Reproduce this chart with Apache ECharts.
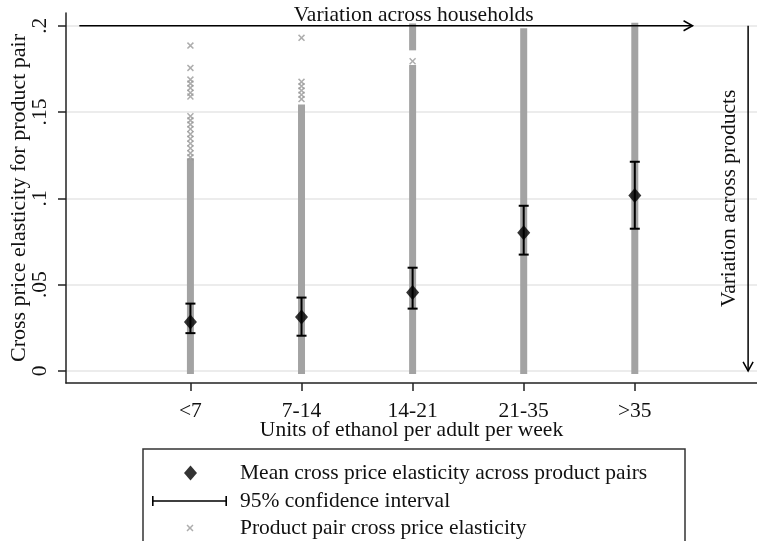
<!doctype html>
<html>
<head>
<meta charset="utf-8">
<title>Cross price elasticity</title>
<script src="https://cdn.jsdelivr.net/npm/echarts@6/dist/echarts.min.js"></script>
<style>
	html, body { margin: 0; padding: 0; background: #fff; }
	#main { width: 757px; height: 541px; }
</style>
</head>
<body>
<div id="main"></div>
<script type="text/javascript">
	// x axis categories (units of ethanol per adult per week)
	var categories = ['<7', '7-14', '14-21', '21-35', '>35'];
	var catPos = [1, 2, 3, 4, 5];
	// mean cross price elasticity and its 95% confidence interval
	var meanValues = [0.0284, 0.0313, 0.0454, 0.0800, 0.1016];
	var ciLow = [0.0219, 0.0204, 0.0361, 0.0674, 0.0824];
	var ciHigh = [0.0390, 0.0425, 0.0598, 0.0957, 0.1212];
	// runs of product pair markers so dense they merge into a column
	var runCat = [1, 2, 3, 3, 4, 5];
	var runLow = [0, 0, 0, 0.1875, 0, 0];
	var runHigh = [0.1215, 0.1526, 0.1756, 0.1996, 0.1968, 0.2];
	// isolated product pair markers
	var outlierCat = [1, 1, 1, 1, 1, 1, 1, 1, 1, 1, 1, 1, 1, 1, 1, 1, 1,
		2, 2, 2, 2, 2, 2, 3];
	var outlierVal = [0.1885, 0.1756, 0.1688, 0.1665, 0.1640, 0.1612, 0.1590,
		0.1476, 0.1452, 0.1428, 0.1402, 0.1372, 0.1345, 0.1318, 0.1290, 0.1262, 0.1238,
		0.1930, 0.1675, 0.1650, 0.1625, 0.1600, 0.1575, 0.1794];
	// y axis ticks
	var yTicks = [0, 0.05, 0.1, 0.15, 0.2];
	// annotation arrows: x0, y0, x1, y1, text x, text y
	var arrowData = [
		[0, 0.2, 5.52, 0.2, 3.01, 0.2],
		[6.02, 0.2, 6.02, 0, 5.85, 0.1]
	];
	var arrowText = ['Variation across households', 'Variation across products'];

	var FONT = 'Liberation Serif';
	var FONT_SIZE = 21.5;
	var mainChart = echarts.init(document.getElementById('main'));

	var byIndex = function(xs, ys) {
		var out = [];
		for (var i = 0; i < xs.length; i++) {
			out.push([xs[i], ys[i]]);
		}
		return out;
	};

	var runData = [];
	for (var i = 0; i < runCat.length; i++) {
		runData.push([runCat[i], runLow[i], runHigh[i]]);
	}
	var ciData = [];
	for (var j = 0; j < catPos.length; j++) {
		ciData.push([catPos[j], ciLow[j], ciHigh[j]]);
	}

	var crossPath = 'path://M0,1.5 L1.5,0 L5,3.5 L8.5,0 L10,1.5 L6.5,5 L10,8.5 L8.5,10 L5,6.5 L1.5,10 L0,8.5 L3.5,5 Z';
	var ciIcon = 'path://M0,0 L1.6,0 L1.6,4.2 L73.4,4.2 L73.4,0 L75,0 L75,10 L73.4,10 L73.4,5.8 L1.6,5.8 L1.6,10 L0,10 Z';

	var legendText = {
		fontFamily: FONT,
		fontSize: FONT_SIZE,
		color: '#111',
		lineHeight: 22
	};

	var option = {
		animation: false,
		backgroundColor: '#fff',
		grid: {
			left: 66,
			right: 0,
			top: 13,
			bottom: 158,
			outerBoundsMode: 'none'
		},
		xAxis: {
			type: 'value',
			min: -0.12,
			max: 6.1,
			axisLine: { show: true, onZero: false, lineStyle: { color: '#222', width: 1.5 } },
			axisTick: { show: true, inside: false, length: 8, customValues: catPos, lineStyle: { color: '#222', width: 1.5 } },
			axisLabel: {
				customValues: catPos,
				margin: 17,
				fontFamily: FONT,
				fontSize: FONT_SIZE,
				color: '#111',
				formatter: function(v) { return categories[Math.round(v) - 1]; }
			},
			splitLine: { show: false },
			name: 'Units of ethanol per adult per week',
			nameLocation: 'middle',
			nameGap: 36,
			nameMoveOverlap: false,
			nameTextStyle: { fontFamily: FONT, fontSize: FONT_SIZE, color: '#111' }
		},
		yAxis: {
			type: 'value',
			min: -0.007,
			max: 0.2074,
			axisLine: { show: true, onZero: false, lineStyle: { color: '#222', width: 1.5 } },
			axisTick: { show: true, inside: false, length: 8, customValues: yTicks, lineStyle: { color: '#222', width: 1.5 } },
			axisLabel: {
				customValues: yTicks,
				rotate: 90,
				margin: 15,
				fontFamily: FONT,
				fontSize: FONT_SIZE,
				color: '#111',
				formatter: function(v) { return v === 0 ? '0' : String(+v.toFixed(2)).replace('0.', '.'); }
			},
			splitLine: { show: true, lineStyle: { color: '#e6e6e6', width: 1.5 } },
			name: 'Cross price elasticity for product pair',
			nameLocation: 'middle',
			nameGap: 36,
			nameMoveOverlap: false,
			nameTextStyle: { fontFamily: FONT, fontSize: 22, color: '#111' }
		},
		legend: [{
			data: ['Mean cross price elasticity across product pairs'],
			left: 184, top: 462, padding: 0,
			itemWidth: 13, itemHeight: 15,
			selectedMode: false,
			textStyle: echarts.util.extend({ padding: [0, 0, 0, 38] }, legendText)
		}, {
			data: [{ name: '95% confidence interval', icon: ciIcon }],
			left: 152, top: 490, padding: 0,
			itemWidth: 75, itemHeight: 10,
			selectedMode: false,
			textStyle: echarts.util.extend({ padding: [0, 0, 0, 8] }, legendText)
		}, {
			data: [{ name: 'Product pair cross price elasticity', icon: crossPath }],
			left: 186.5, top: 517, padding: 0,
			itemWidth: 7, itemHeight: 7,
			selectedMode: false,
			textStyle: echarts.util.extend({ padding: [0, 0, 0, 41.5] }, legendText)
		}],
		graphic: [{
			type: 'rect',
			shape: { x: 143, y: 449, width: 542, height: 120 },
			style: { fill: 'none', stroke: '#333', lineWidth: 1.5 },
			z: 1
		}],
		series: [{
			// dense columns of product pair markers
			type: 'custom',
			name: 'dense',
			data: runData,
			encode: { x: 0, y: [1, 2] },
			silent: true,
			z: 2,
			renderItem: function(params, api) {
				var lo = api.coord([api.value(0), api.value(1)]);
				var hi = api.coord([api.value(0), api.value(2)]);
				return {
					type: 'rect',
					shape: { x: lo[0] - 3.5, y: hi[1] - 3, width: 7, height: lo[1] - hi[1] + 6 },
					style: { fill: '#a3a3a3' }
				};
			}
		}, {
			name: 'Product pair cross price elasticity',
			type: 'scatter',
			data: byIndex(outlierCat, outlierVal),
			symbol: crossPath,
			symbolSize: 7,
			itemStyle: { color: '#999999' },
			z: 3
		}, {
			name: '95% confidence interval',
			type: 'custom',
			data: ciData,
			encode: { x: 0, y: [1, 2] },
			itemStyle: { color: '#000' },
			z: 4,
			renderItem: function(params, api) {
				var lo = api.coord([api.value(0), api.value(1)]);
				var hi = api.coord([api.value(0), api.value(2)]);
				var st = { stroke: '#000', lineWidth: 2 };
				return {
					type: 'group',
					children: [
						{ type: 'line', shape: { x1: lo[0], y1: lo[1], x2: hi[0], y2: hi[1] }, style: st },
						{ type: 'line', shape: { x1: lo[0] - 5, y1: lo[1], x2: lo[0] + 5, y2: lo[1] }, style: st },
						{ type: 'line', shape: { x1: hi[0] - 5, y1: hi[1], x2: hi[0] + 5, y2: hi[1] }, style: st }
					]
				};
			}
		}, {
			name: 'Mean cross price elasticity across product pairs',
			type: 'scatter',
			data: byIndex(catPos, meanValues),
			symbol: 'diamond',
			symbolSize: [13, 15],
			itemStyle: { color: '#000' },
			z: 5
		}, {
			// annotation arrows with their labels
			type: 'custom',
			name: 'arrows',
			data: arrowData,
			encode: { x: [0, 2, 4], y: [1, 3, 5] },
			silent: true,
			z: 6,
			renderItem: function(params, api) {
				var p0 = api.coord([api.value(0), api.value(1)]);
				var p1 = api.coord([api.value(2), api.value(3)]);
				var pt = api.coord([api.value(4), api.value(5)]);
				var dx = p1[0] - p0[0], dy = p1[1] - p0[1];
				var len = Math.sqrt(dx * dx + dy * dy);
				var ux = dx / len, uy = dy / len;
				var head = [
					[p1[0] - ux * 9 - uy * 5, p1[1] - uy * 9 + ux * 5],
					[p1[0], p1[1]],
					[p1[0] - ux * 9 + uy * 5, p1[1] - uy * 9 - ux * 5]
				];
				var st = { stroke: '#000', lineWidth: 1.5, fill: null };
				var vertical = Math.abs(dy) > Math.abs(dx);
				return {
					type: 'group',
					children: [
						{ type: 'line', shape: { x1: p0[0], y1: p0[1], x2: p1[0], y2: p1[1] }, style: st },
						{ type: 'polyline', shape: { points: head }, style: st },
						{
							type: 'text',
							x: pt[0],
							y: vertical ? pt[1] : pt[1] + 1,
							rotation: vertical ? Math.PI / 2 : 0,
							style: {
								text: arrowText[params.dataIndex],
								fontFamily: FONT,
								fontSize: FONT_SIZE,
								fill: '#111',
								align: 'center',
								verticalAlign: vertical ? 'middle' : 'bottom'
							}
						}
					]
				};
			}
		}]
	};

	mainChart.setOption(option);
</script>
</body>
</html>
